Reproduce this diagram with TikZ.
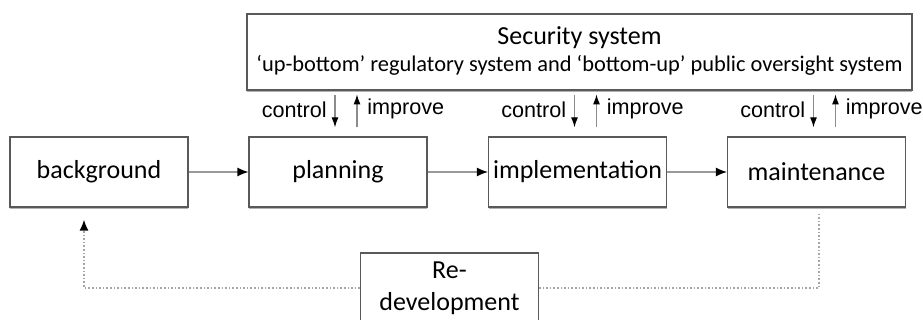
\documentclass[tikz,border=0pt]{standalone}
\usepackage{fontspec}
\setmainfont{Carlito}
\newfontfamily\arialf{Liberation Sans}
\usetikzlibrary{arrows.meta,calc,shadows}
\begin{document}
\begin{tikzpicture}[x=0.5pt,y=-0.5pt,
  box/.style={draw=black!65, line width=0.6pt, fill=white, minimum width=89pt,
    minimum height=35pt, inner sep=0pt, align=center,
    font=\fontsize{13}{16}\selectfont,
    drop shadow={shadow xshift=0pt, shadow yshift=-0.9pt, fill=black!30, opacity=1}},
  flow/.style={draw=black!40, line width=0.6pt, -{Latex[length=5.5pt,width=4.5pt,color=black]}},
  back/.style={draw=black!35, line width=0.8pt, densely dotted},
  backarrow/.style={back, -{Latex[length=5.5pt,width=4.5pt,color=black]}},
  ctl/.style={draw=black!45, line width=0.6pt, -{Latex[length=5pt,width=3.5pt,color=black]}},
  lbl/.style={font=\arialf\fontsize{10.8}{13}\selectfont, inner sep=0pt}
]
\useasboundingbox (0,0) rectangle (923,320);
\clip (0,0) rectangle (923,320);

% security system box
\node[draw=black!65, line width=0.6pt, fill=white, minimum width=332.5pt, minimum height=38pt,
  drop shadow={shadow xshift=0pt, shadow yshift=-0.9pt, fill=black!30, opacity=1}] (sec) at (579.5,52) {};
\node[font=\fontsize{13}{15}\selectfont, inner sep=0pt] (sect) at ($(sec.north)+(0,24)$) {Security system};
\node[font=\fontsize{11.2}{12}\selectfont, inner sep=0pt] (secs) at ($(sec.north)+(0,52)$)
  {‘up-bottom’ regulatory system and ‘bottom-up’ public oversight system};

% process boxes
\node[box] (bg)    at (99,172)    {background};
\node[box] (plan)  at (338,172)   {planning};
\node[box] (impl)  at (577.5,172) {implementation};
\node[box] (maint) at (816.5,172) {maintenance};
\node[box] (redev) at (449.5,288) {Re-\\development};

% flow arrows
\draw[flow] (bg.east) -- (plan.west);
\draw[flow] (plan.east) -- (impl.west);
\draw[flow] (impl.east) -- (maint.west);

% control / improve
\foreach \b/\n in {plan/a, impl/b, maint/c}{
  \node[lbl, anchor=east] (ctl\n) at ($(\b.north)+(-11,-27)$) {control};
  \node[lbl, anchor=west] (imp\n) at ($(\b.north)+(29,-27)$) {improve};
  \draw[ctl] ($(\b.north)+(-3,-41)$) -- ($(\b.north)+(-3,-9)$);
  \draw[ctl] ($(\b.north)+(19,-9)$) -- ($(\b.north)+(19,-42)$);
}

% redevelopment loop
\coordinate (loopR) at ($(maint.south)+(2.5,6)$);
\coordinate (loopL) at ($(bg.south)+(-15,12)$);
\draw[back] (loopR) |- (redev.east);
\draw[backarrow] (redev.west) -| (loopL);
\end{tikzpicture}
\end{document}
